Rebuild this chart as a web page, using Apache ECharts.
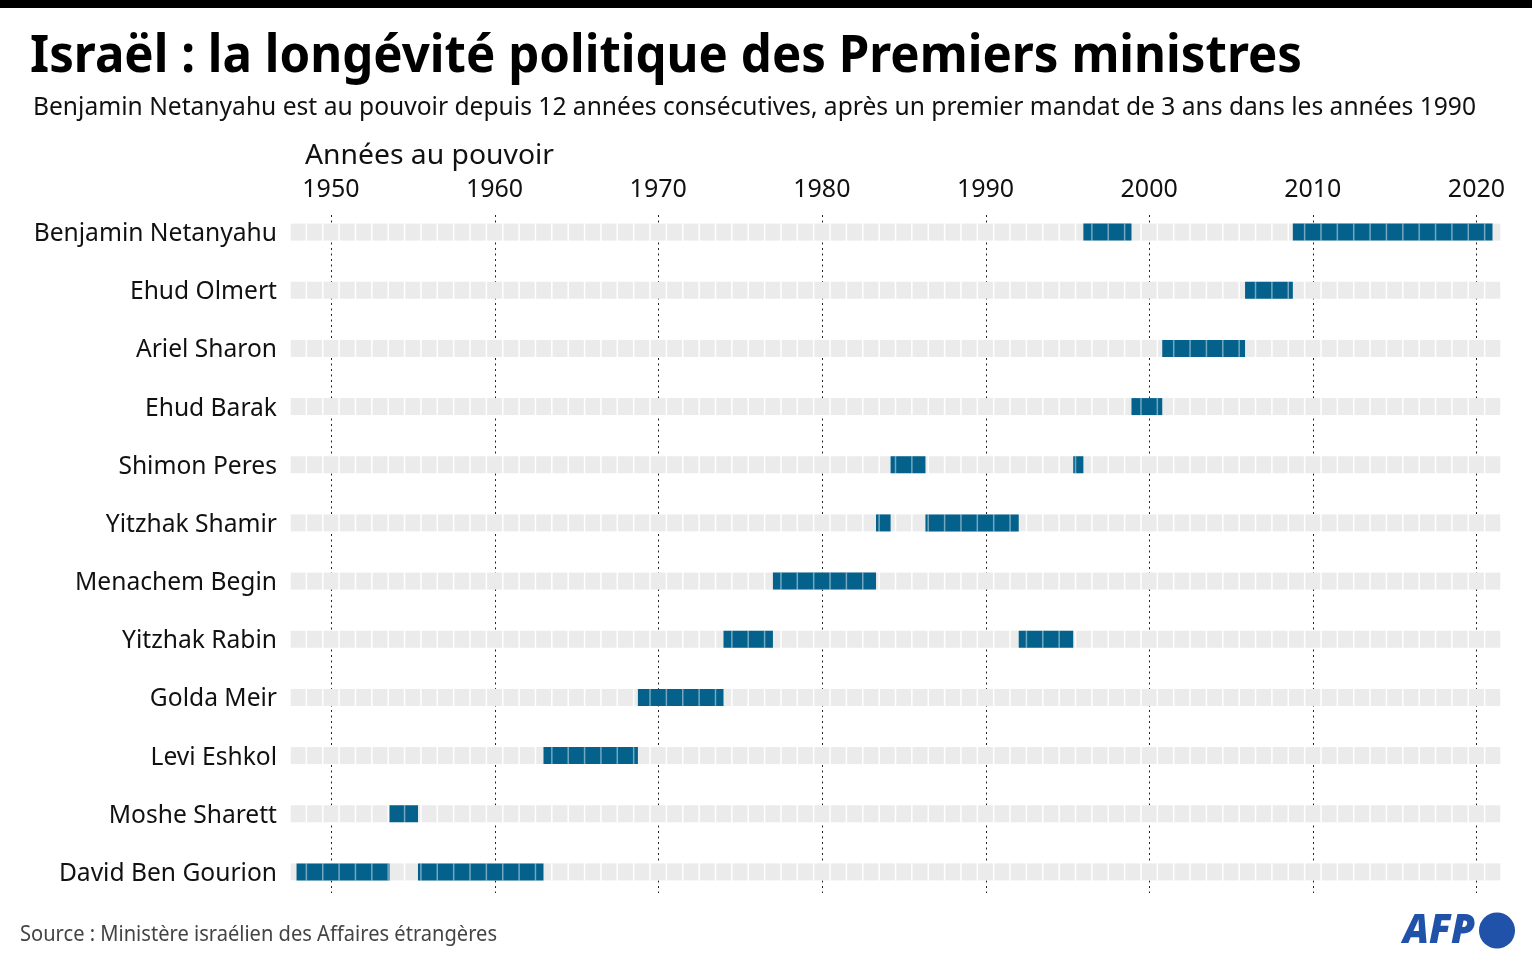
<!DOCTYPE html>
<html><head><meta charset="utf-8">
<script src="https://cdn.jsdelivr.net/npm/echarts@6/dist/echarts.min.js"></script>
<style>html,body{margin:0;padding:0;background:#fff}#c{width:1532px;height:964px}</style>
</head><body><div id="c"></div>
<script>
// ---- data ----
const leaders = ['Benjamin Netanyahu','Ehud Olmert','Ariel Sharon','Ehud Barak','Shimon Peres','Yitzhak Shamir','Menachem Begin','Yitzhak Rabin','Golda Meir','Levi Eshkol','Moshe Sharett','David Ben Gourion'];
const years = [1948,1949,1950,1951,1952,1953,1954,1955,1956,1957,1958,1959,1960,1961,1962,1963,1964,1965,1966,1967,1968,1969,1970,1971,1972,1973,1974,1975,1976,1977,1978,1979,1980,1981,1982,1983,1984,1985,1986,1987,1988,1989,1990,1991,1992,1993,1994,1995,1996,1997,1998,1999,2000,2001,2002,2003,2004,2005,2006,2007,2008,2009,2010,2011,2012,2013,2014,2015,2016,2017,2018,2019,2020,2021];
const tickYears = [1950,1960,1970,1980,1990,2000,2010,2020];
const termLeader = ['David Ben Gourion','Moshe Sharett','David Ben Gourion','Levi Eshkol','Golda Meir','Yitzhak Rabin','Menachem Begin','Yitzhak Shamir','Shimon Peres','Yitzhak Shamir','Yitzhak Rabin','Shimon Peres','Benjamin Netanyahu','Ehud Barak','Ariel Sharon','Ehud Olmert','Benjamin Netanyahu'];
const termStart = [1948.40,1954.08,1955.82,1963.49,1969.26,1974.49,1977.51,1983.81,1984.70,1986.83,1992.53,1995.86,1996.48,1999.42,2001.30,2006.36,2009.28];
const termEnd   = [1954.08,1955.82,1963.49,1969.26,1974.49,1977.51,1983.81,1984.70,1986.83,1992.53,1995.86,1996.48,1999.42,2001.30,2006.36,2009.28,2021.48];

const TITLE = 'Israël : la longévité politique des Premiers ministres';
const SUBTITLE = 'Benjamin Netanyahu est au pouvoir depuis 12 années consécutives, après un premier mandat de 3 ans dans les années 1990';
const AXIS_TITLE = 'Années au pouvoir';
const SOURCE = 'Source : Ministère israélien des Affaires étrangères';

// ---- helpers ----
const FONT = '"Noto Sans", "DejaVu Sans", sans-serif';
const mctx = document.createElement('canvas').getContext('2d');
function fitScale(text, font, target) { mctx.font = font; return target / mctx.measureText(text).width; }

const cellData = [];
leaders.forEach((l, i) => years.forEach(y => cellData.push([y, i])));
const termData = termLeader.map((l, i) => [termStart[i], termEnd[i], leaders.indexOf(l)]);

const CELL_H = 17;
const GRAY = '#ebebeb';
const BLUE = '#03618c';

const chart = echarts.init(document.getElementById('c'));
chart.setOption({
  animation: false,
  backgroundColor: '#ffffff',
  grid: { left: 290, right: 31, top: 203, bottom: 63, containLabel: false },
  xAxis: {
    type: 'value', position: 'top', min: 1948, max: 2022,
    axisLine: { show: false }, axisTick: { show: false }, splitLine: { show: false },
    axisLabel: {
      customValues: tickYears.map(y => y + 0.5),
      formatter: v => String(Math.round(v - 0.5)),
      fontFamily: FONT, fontSize: 25, color: '#111', margin: 1
    }
  },
  yAxis: {
    type: 'category', data: leaders, inverse: true,
    axisLine: { show: false }, axisTick: { show: false }, splitLine: { show: false },
    axisLabel: {
      margin: 13,
      formatter: v => '{n|' + v + '}',
      rich: { n: { fontFamily: FONT, fontSize: 24.6, color: '#111', padding: [4, 0, 0, 0] } }
    }
  },
  series: [
    {
      type: 'custom', name: 'grid', z: 1, silent: true,
      data: tickYears.map(y => [y + 0.5]),
      encode: { x: 0 },
      renderItem(params, api) {
        const cs = params.coordSys;
        const x = Math.round(api.coord([api.value(0), 0])[0]) + 0.5;
        return { type: 'line', shape: { x1: x, y1: cs.y + 12, x2: x, y2: cs.y + cs.height - 8 },
          style: { stroke: '#222', lineWidth: 1, lineDash: [2, 3.5] } };
      }
    },
    {
      type: 'custom', name: 'cells', z: 2, silent: true,
      data: cellData,
      encode: { x: 0, y: 1 },
      renderItem(params, api) {
        const y0 = api.value(0), row = api.value(1);
        const p0 = api.coord([y0, row]), p1 = api.coord([y0 + 1, row]);
        return { type: 'rect', shape: { x: p0[0] + 0.75, y: p0[1] - CELL_H / 2, width: p1[0] - p0[0] - 1.5, height: CELL_H },
          style: { fill: GRAY } };
      }
    },
    {
      type: 'custom', name: 'terms', z: 3, silent: true,
      data: termData,
      encode: { x: [0, 1], y: 2 },
      renderItem(params, api) {
        const s = api.value(0), e = api.value(1), row = api.value(2);
        const p0 = api.coord([s, row]), p1 = api.coord([e, row]);
        const children = [{ type: 'rect', shape: { x: p0[0], y: p0[1] - CELL_H / 2, width: p1[0] - p0[0], height: CELL_H },
          style: { fill: BLUE } }];
        years.filter(y => y > s && y < e).forEach(y => {
          const x = api.coord([y, row])[0];
          children.push({ type: 'line', shape: { x1: x, y1: p0[1] - CELL_H / 2, x2: x, y2: p0[1] + CELL_H / 2 },
            style: { stroke: 'rgba(255,255,255,0.45)', lineWidth: 1.5 } });
        });
        return { type: 'group', children };
      }
    }
  ],
  graphic: [
    { type: 'rect', left: 0, top: 0, shape: { width: 1532, height: 8 }, style: { fill: '#000' } },
    { type: 'text', x: 30, y: 57, scaleX: fitScale(TITLE, 'bold 52px ' + FONT, 1272),
      style: { text: TITLE, fontFamily: FONT, fontWeight: 'bold', fontSize: 52, fill: '#000', verticalAlign: 'middle' } },
    { type: 'text', x: 33, y: 108, scaleX: fitScale(SUBTITLE, '25px ' + FONT, 1443),
      style: { text: SUBTITLE, fontFamily: FONT, fontSize: 25, fill: '#111', verticalAlign: 'middle' } },
    { type: 'text', x: 305, y: 156, scaleX: fitScale(AXIS_TITLE, '27px ' + FONT, 249),
      style: { text: AXIS_TITLE, fontFamily: FONT, fontSize: 27, fill: '#111', verticalAlign: 'middle' } },
    { type: 'text', x: 20, y: 935, scaleX: fitScale(SOURCE, '21px ' + FONT, 477),
      style: { text: SOURCE, fontFamily: FONT, fontSize: 21, fill: '#444', verticalAlign: 'middle' } },
    { type: 'text', x: 1403, y: 932, scaleX: fitScale('AFP', 'italic 900 40px ' + FONT, 72),
      style: { text: 'AFP', fontFamily: FONT, fontStyle: 'italic', fontWeight: 900, fontSize: 40, fill: '#1f52a8', verticalAlign: 'middle' } },
    { type: 'circle', shape: { cx: 1497, cy: 930.5, r: 18 }, style: { fill: '#1f52a8' } }
  ]
});
</script></body></html>
